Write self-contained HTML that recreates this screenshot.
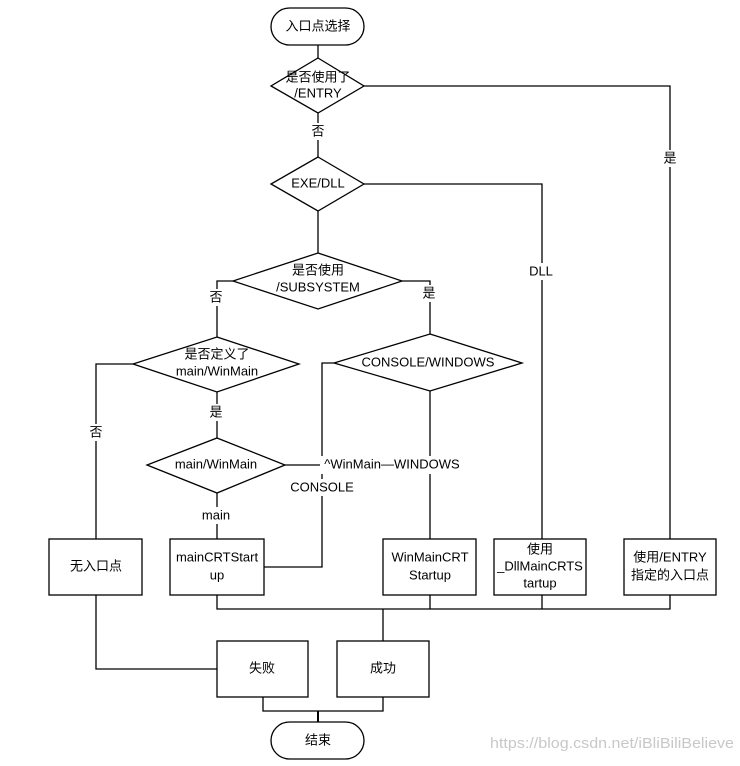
<!DOCTYPE html>
<html><head><meta charset="utf-8"><style>
html,body{margin:0;padding:0;background:#fff;}
svg text{font-family:"Liberation Sans","Noto Sans CJK SC",sans-serif;font-size:13px;fill:#000;text-anchor:middle;dominant-baseline:middle;}
</style></head><body>
<svg width="740" height="761" viewBox="0 0 740 761" xmlns="http://www.w3.org/2000/svg">
<g fill="none" stroke="#000" stroke-width="1.3">
<rect x="271" y="8" width="93" height="37" rx="18.5"/>
<line x1="318" y1="45" x2="318" y2="58"/>
<polygon points="318,58 364,86 318,113 271,86"/>
<polyline points="364,86 670,86 670,539"/>
<line x1="318" y1="113" x2="318" y2="157"/>
<polygon points="318,157 364,184 318,211 271,184"/>
<polyline points="364,184 542,184 542,539"/>
<line x1="318" y1="211" x2="318" y2="253"/>
<polygon points="318,253 402,281 318,309 233,281"/>
<polyline points="233,281 217,281 217,337"/>
<polyline points="402,281 430,281 430,334"/>
<polygon points="217,337 299,364 217,392 133,364"/>
<polygon points="430,334 522,363 430,391 334,363"/>
<polyline points="133,364 96,364 96,539"/>
<line x1="217" y1="392" x2="217" y2="438"/>
<polygon points="217,438 285,465 217,493 147,465"/>
<line x1="217" y1="493" x2="217" y2="539"/>
<line x1="285" y1="465" x2="320" y2="465"/>
<polyline points="334,363 322,363 322,567 264,567"/>
<line x1="430" y1="391" x2="430" y2="539"/>
<rect x="49" y="539" width="93" height="56"/>
<rect x="170" y="539" width="94" height="56"/>
<rect x="383" y="539" width="93" height="56"/>
<rect x="494" y="539" width="92" height="56"/>
<rect x="624" y="539" width="92" height="56"/>
<polyline points="217,595 217,609 670,609 670,595"/>
<line x1="430" y1="595" x2="430" y2="609"/>
<line x1="542" y1="595" x2="542" y2="609"/>
<line x1="383" y1="609" x2="383" y2="641"/>
<polyline points="96,595 96,669 217,669"/>
<rect x="217" y="641" width="91" height="56"/>
<rect x="337" y="641" width="92" height="56"/>
<polyline points="263,697 263,711 383,711 383,697"/>
<line x1="318" y1="711" x2="318" y2="722" stroke-width="2"/>
<rect x="271" y="722" width="93" height="37" rx="18.5"/>
</g>
<g>
<text x="318" y="27">入口点选择</text>
<text x="318" y="78">是否使用了</text>
<text x="318" y="94">/ENTRY</text>
<rect x="308" y="123" width="20" height="17" fill="#fff"/><text x="318" y="132">否</text>
<text x="318" y="184">EXE/DLL</text>
<rect x="660" y="150" width="20" height="17" fill="#fff"/><text x="670" y="159">是</text>
<rect x="527" y="263" width="30" height="17" fill="#fff"/><text x="541" y="272">DLL</text>
<text x="318" y="271">是否使用</text>
<text x="318" y="288">/SUBSYSTEM</text>
<rect x="207" y="289" width="20" height="17" fill="#fff"/><text x="216" y="298">否</text>
<rect x="420" y="285" width="20" height="17" fill="#fff"/><text x="429" y="294">是</text>
<text x="217" y="355">是否定义了</text>
<text x="217" y="372">main/WinMain</text>
<text x="428" y="363">CONSOLE/WINDOWS</text>
<rect x="86" y="424" width="20" height="17" fill="#fff"/><text x="96" y="433">否</text>
<rect x="207" y="404" width="20" height="17" fill="#fff"/><text x="216" y="413">是</text>
<text x="216" y="465">main/WinMain</text>
<rect x="320" y="456" width="146" height="18" fill="#fff"/><text x="392" y="465">^WinMain—WINDOWS</text>
<rect x="292" y="479" width="60" height="17" fill="#fff"/><text x="322" y="488">CONSOLE</text>
<rect x="198" y="507" width="38" height="17" fill="#fff"/><text x="216" y="516">main</text>
<text x="96" y="567">无入口点</text>
<text x="217" y="558">mainCRTStart</text>
<text x="217" y="576">up</text>
<text x="430" y="558">WinMainCRT</text>
<text x="430" y="576">Startup</text>
<text x="540" y="550">使用</text>
<text x="540" y="567">_DllMainCRTS</text>
<text x="540" y="584">tartup</text>
<text x="670" y="558">使用/ENTRY</text>
<text x="670" y="576">指定的入口点</text>
<text x="262" y="669">失败</text>
<text x="383" y="669">成功</text>
<text x="318" y="741">结束</text>
<text x="612" y="744" style="fill:#c8c8c8;font-size:15px" textLength="244" lengthAdjust="spacingAndGlyphs">https://blog.csdn.net/iBliBiliBelieve</text>
</g>
</svg>
</body></html>
